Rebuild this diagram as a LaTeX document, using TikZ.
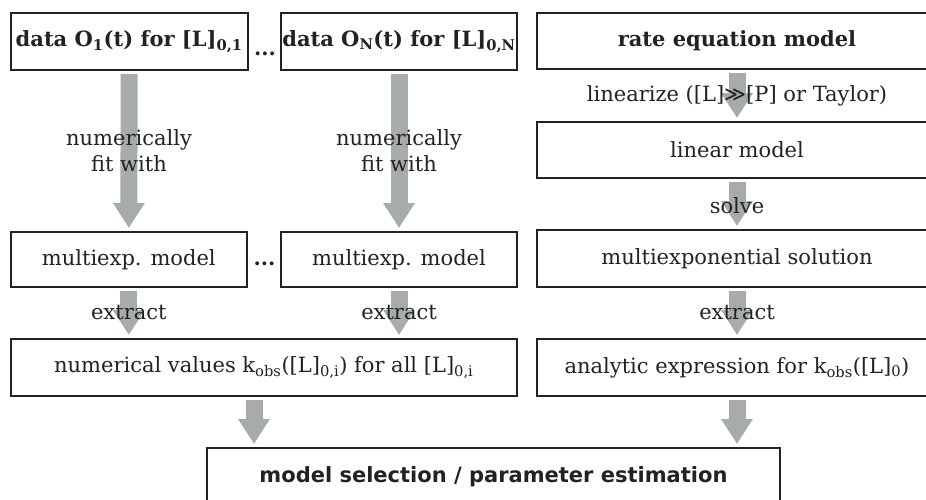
\documentclass[tikz,border=0pt]{standalone}
\usepackage{fontspec}
\setmainfont{DejaVu Serif}
\setsansfont{DejaVu Sans}
\usetikzlibrary{arrows.meta}
\definecolor{arrgray}{HTML}{A8ABAB}
\definecolor{edge}{HTML}{222222}
\newcommand{\sbs}[1]{\textsubscript{#1}}
\begin{document}
\begin{tikzpicture}[x=1pt,y=-1pt,
  box/.style={draw=edge, line width=2pt, inner sep=0pt, minimum height=57pt,
    text=edge, font=\fontsize{21}{25}\selectfont, align=center},
  fat/.style={draw=arrgray, line width=17pt, shorten <=3pt, shorten >=3pt,
    -{Triangle[width=30pt,length=25pt]}},
  lbl/.style={text=edge, font=\fontsize{21}{26}\selectfont, align=center},
  dots/.style={text=edge, font=\fontsize{21}{25}\selectfont\bfseries, anchor=base, inner sep=0pt}
]
\useasboundingbox (0,0) rectangle (926,500);
\clip (0,0) rectangle (926,500);
\fill[white] (0,0) rectangle (926,500);

% boxes
\node[box, minimum width=237pt] (d1) at (129.2,41.5) {\textbf{data O\sbs{1}(t) for [L]\sbs{0,1}}};
\node[box, minimum width=236pt] (d2) at (399,41.5) {\textbf{data O\sbs{N}(t) for [L]\sbs{0,N}}};
\node[box, minimum width=400pt, minimum height=56pt] (rate) at (737,41) {\textbf{rate equation model}};
\node[box, minimum width=400pt, minimum height=56pt] (lin) at (737,150) {linear model};
\node[box, minimum width=236.4pt, minimum height=55pt] (m1) at (128.8,259.5) {multiexp. model};
\node[box, minimum width=236pt, minimum height=55pt] (m2) at (399,259.5) {multiexp. model};
\node[box, minimum width=400pt, minimum height=57pt] (ms) at (737,258.5) {multiexponential solution};
\node[box, minimum width=506.4pt] (nv) at (263.8,367.5) {numerical values k\sbs{obs}([L]\sbs{0,i}) for all [L]\sbs{0,i}};
\node[box, minimum width=400pt] (ae) at (737,367.5) {analytic expression for k\sbs{obs}([L]\sbs{0})};
\node[box, minimum width=573pt, minimum height=57pt] (sel) at (493.5,476.5) {\sffamily\bfseries model selection / parameter estimation};

% ellipses
\node[dots] (e1) at (265,56) {...};
\node[dots] (e2) at (264.5,265) {...};

% coordinates for bottom arrows
\coordinate (bl) at (254,0);
\coordinate (br) at (737,0);

% arrows
\draw[fat] (d1) ++(0,0) (d1.south) -- (m1.north) node[midway, lbl] {numerically\\fit with};
\draw[fat] (d2.south) -- (m2.north) node[midway, lbl] {numerically\\fit with};
\draw[fat] (rate.south) -- (lin.north) node[midway, lbl] {linearize ([L]{\fontspec{DejaVu Sans}≫}[P] or Taylor)};
\draw[fat] (lin.south) -- (ms.north) node[midway, lbl, yshift=-2pt] {solve};
\draw[fat] (m1.south) -- (m1.south |- nv.north) node[midway, lbl] {extract};
\draw[fat] (m2.south) -- (m2.south |- nv.north) node[midway, lbl] {extract};
\draw[fat] (ms.south) -- (ae.north) node[midway, lbl] {extract};
\draw[fat] (nv.south -| bl) -- (sel.north -| bl);
\draw[fat] (ae.south -| br) -- (sel.north -| br);
\end{tikzpicture}
\end{document}
